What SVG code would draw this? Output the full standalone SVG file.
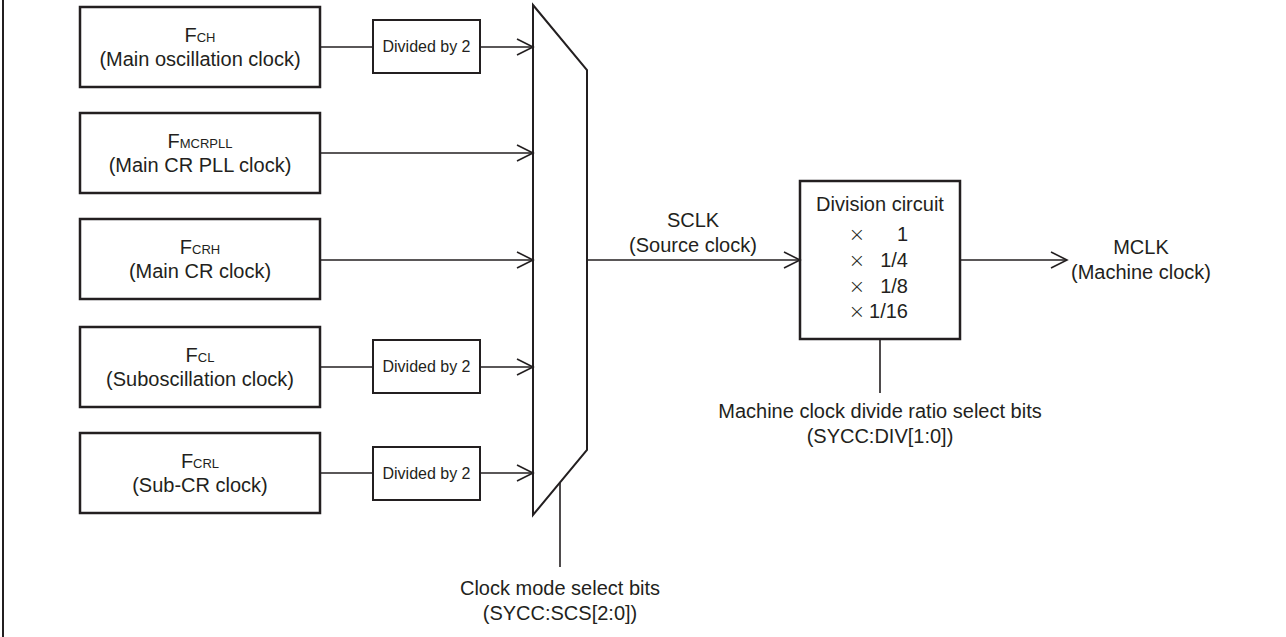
<svg xmlns="http://www.w3.org/2000/svg" width="1286" height="637" viewBox="0 0 1286 637">
<style>
text{font-family:"Liberation Sans",Arial,sans-serif;fill:#231f20}
.t{font-size:20px;text-anchor:middle}
.s{font-size:13px}
.d{font-size:16px;text-anchor:middle}
.x{font-family:"DejaVu Sans",sans-serif;font-size:20px;font-weight:200;text-anchor:middle}
.n{font-size:20px;text-anchor:end}
.box{fill:#fff;stroke:#231f20;stroke-width:2.5}
.dbox{fill:#fff;stroke:#231f20;stroke-width:2}
.ln{fill:none;stroke:#231f20;stroke-width:1.6}
</style>
<defs>
<marker id="arr" markerWidth="20" markerHeight="20" refX="17" refY="9" orient="auto" markerUnits="userSpaceOnUse">
<path d="M1,1 L17,9 L1,17" fill="none" stroke="#231f20" stroke-width="1.6"/>
</marker>
</defs>
<rect width="1286" height="637" fill="#fff"/>
<line x1="3" y1="0" x2="3" y2="637" stroke="#231f20" stroke-width="2"/>

<g id="fch">
<rect class="box" x="80" y="7" width="240" height="80"/>
<text class="t" x="200" y="42">F<tspan class="s">CH</tspan></text>
<text class="t" x="200" y="66">(Main oscillation clock)</text>
</g>
<g id="fmcrpll">
<rect class="box" x="80" y="113" width="240" height="80"/>
<text class="t" x="200" y="148">F<tspan class="s">MCRPLL</tspan></text>
<text class="t" x="200" y="172">(Main CR PLL clock)</text>
</g>
<g id="fcrh">
<rect class="box" x="80" y="219" width="240" height="80"/>
<text class="t" x="200" y="254">F<tspan class="s">CRH</tspan></text>
<text class="t" x="200" y="278">(Main CR clock)</text>
</g>
<g id="fcl">
<rect class="box" x="80" y="327" width="240" height="80"/>
<text class="t" x="200" y="362">F<tspan class="s">CL</tspan></text>
<text class="t" x="200" y="386">(Suboscillation clock)</text>
</g>
<g id="fcrl">
<rect class="box" x="80" y="433" width="240" height="80"/>
<text class="t" x="200" y="468">F<tspan class="s">CRL</tspan></text>
<text class="t" x="200" y="492">(Sub-CR clock)</text>
</g>

<g id="div1">
<rect class="dbox" x="373" y="20" width="107" height="53"/>
<text class="d" x="426.5" y="52">Divided by 2</text>
</g>
<g id="div4">
<rect class="dbox" x="373" y="340" width="107" height="53"/>
<text class="d" x="426.5" y="372">Divided by 2</text>
</g>
<g id="div5">
<rect class="dbox" x="373" y="447" width="107" height="53"/>
<text class="d" x="426.5" y="479">Divided by 2</text>
</g>

<g id="mux">
<polygon points="533,5 587,70 587,450 533,515" fill="#fff" stroke="#231f20" stroke-width="2"/>
</g>

<g id="division">
<rect class="box" x="800" y="181" width="160" height="158" stroke-width="2"/>
<text class="t" x="880" y="211">Division circuit</text>
<text class="x" x="857" y="241">×</text>
<text class="n" x="908" y="241">1</text>
<text class="x" x="857" y="267">×</text>
<text class="n" x="908" y="267">1/4</text>
<text class="x" x="857" y="293">×</text>
<text class="n" x="908" y="293">1/8</text>
<text class="x" x="857" y="318">×</text>
<text class="n" x="908" y="318">1/16</text>
</g>

<g id="connectors">
<line class="ln" x1="320" y1="47" x2="373" y2="47"/>
<line class="ln" x1="480" y1="47" x2="533" y2="47" marker-end="url(#arr)"/>
<line class="ln" x1="320" y1="153" x2="533" y2="153" marker-end="url(#arr)"/>
<line class="ln" x1="320" y1="260" x2="533" y2="260" marker-end="url(#arr)"/>
<line class="ln" x1="320" y1="367" x2="373" y2="367"/>
<line class="ln" x1="480" y1="367" x2="533" y2="367" marker-end="url(#arr)"/>
<line class="ln" x1="320" y1="473" x2="373" y2="473"/>
<line class="ln" x1="480" y1="473" x2="533" y2="473" marker-end="url(#arr)"/>
<line class="ln" x1="587" y1="260" x2="800" y2="260" marker-end="url(#arr)"/>
<line class="ln" x1="960" y1="260" x2="1067" y2="260" marker-end="url(#arr)"/>
<line class="ln" x1="560" y1="483" x2="560" y2="567"/>
<line class="ln" x1="880" y1="339" x2="880" y2="393"/>
</g>

<g id="labels">
<text class="t" x="693" y="227">SCLK</text>
<text class="t" x="693" y="252">(Source clock)</text>
<text class="t" x="1141" y="254">MCLK</text>
<text class="t" x="1141" y="279">(Machine clock)</text>
<text class="t" x="880" y="418">Machine clock divide ratio select bits</text>
<text class="t" x="880" y="443">(SYCC:DIV[1:0])</text>
<text class="t" x="560" y="595">Clock mode select bits</text>
<text class="t" x="560" y="620">(SYCC:SCS[2:0])</text>
</g>
</svg>
